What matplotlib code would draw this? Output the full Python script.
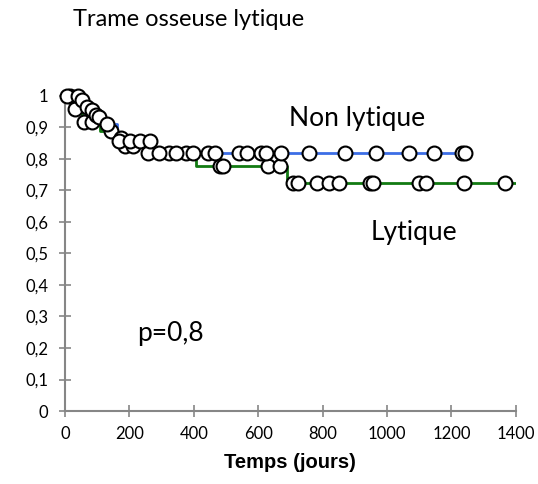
import matplotlib.pyplot as plt
import numpy as np

# Kaplan-Meier curves (step: time, survival after the step)
blue_t = [0, 45, 62, 80, 92, 103, 125, 160, 268]
blue_s = [1.0, 0.986, 0.965, 0.954, 0.938, 0.932, 0.911, 0.857, 0.82]
blue_end = 1243

green_t = [0, 25, 52, 110, 150, 180, 250, 407, 688]
green_s = [1.0, 0.959, 0.916, 0.889, 0.868, 0.841, 0.82, 0.779, 0.724]
green_end = 1400

# censored points (markers)
blue_mt = [5, 39, 53, 69, 85, 95, 106, 132, 169, 201, 233, 265, 291, 344, 397,
           444, 466, 540, 566, 608, 624, 672, 757, 868, 965, 1069, 1146, 1233, 1243]
blue_ms = [1.0, 1.0, 0.986, 0.965, 0.954, 0.938, 0.932, 0.911, 0.857, 0.857, 0.857, 0.857,
           0.82, 0.82, 0.82, 0.82, 0.82, 0.82, 0.82, 0.82, 0.82, 0.82, 0.82, 0.82,
           0.82, 0.82, 0.82, 0.82, 0.82]
green_mt = [16, 32, 58, 85, 143, 175, 185, 212, 259, 323, 376, 481, 492, 630, 667,
            709, 725, 783, 820, 852, 947, 958, 1100, 1122, 1238, 1365]
green_ms = [1.0, 0.959, 0.916, 0.916, 0.889, 0.868, 0.841, 0.841, 0.82, 0.82, 0.82,
            0.779, 0.779, 0.779, 0.779, 0.724, 0.724, 0.724, 0.724, 0.724, 0.724,
            0.724, 0.724, 0.724, 0.724, 0.724]

x_ticks = [0, 200, 400, 600, 800, 1000, 1200, 1400]
y_ticks = [0, 0.1, 0.2, 0.3, 0.4, 0.5, 0.6, 0.7, 0.8, 0.9, 1.0]
y_labels = ["0", "0,1", "0,2", "0,3", "0,4", "0,5", "0,6", "0,7", "0,8", "0,9", "1"]

plt.rcParams['font.family'] = ['Lato', 'DejaVu Sans']

fig = plt.figure(figsize=(5.38, 4.84), dpi=100)
ax = fig.add_axes([0.1208, 0.1508, 0.838, 0.651])

ax.step(green_t + [green_end], green_s + [green_s[-1]], where='post',
        color='#127a12', lw=2.0, zorder=2)
ax.step(blue_t + [blue_end], blue_s + [blue_s[-1]], where='post',
        color='#3c6ee6', lw=2.0, zorder=3)
mk = dict(ls='none', marker='o', ms=10, mfc='white', mec='black', mew=1.5,
          zorder=4, clip_on=False)
ax.plot(green_mt, green_ms, **mk)
ax.plot(blue_mt, blue_ms, **mk)

ax.set_xlim(0, 1400)
ax.set_ylim(0, 1)
ax.set_xticks(x_ticks)
ax.set_yticks(y_ticks)
ax.set_yticklabels(y_labels)
for s in ['top', 'right']:
    ax.spines[s].set_visible(False)
for s in ['left', 'bottom']:
    ax.spines[s].set_color('#868686')
    ax.spines[s].set_linewidth(1.5)
ax.tick_params(direction='inout', length=8, width=1.2, color='#868686',
               labelsize=12, labelcolor='black')
ax.tick_params(axis='x', pad=7)
ax.tick_params(axis='y', pad=8)

ax.set_xlabel("Temps (jours)", family='Liberation Sans', fontweight='bold',
              fontsize=14.5, labelpad=8)

ax.text(907, 0.927, "Non lytique", fontsize=19, ha='center', va='center')
ax.text(1084, 0.568, "Lytique", fontsize=19, ha='center', va='center')
ax.text(326, 0.247, "p=0,8", fontsize=19, ha='center', va='center')
fig.text(73 / 538, 1 - 19 / 484, "Trame osseuse lytique", fontsize=17,
         ha='left', va='center')

fig.savefig("out.png", dpi=100)
